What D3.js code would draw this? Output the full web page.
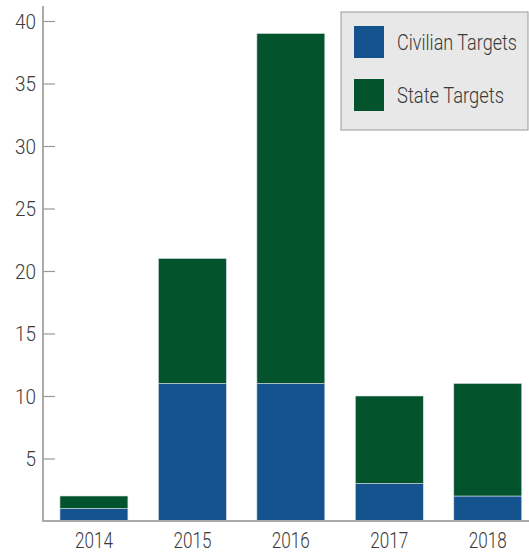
<!DOCTYPE html>
<html>
<head>
<meta charset="utf-8">
<script src="https://cdn.jsdelivr.net/npm/d3@7"></script>
<style>
  body { margin: 0; background: #fff; }
  svg text { font-family: Roboto, 'Noto Sans', sans-serif; font-weight: 300; fill: #3a3a3a; }
</style>
</head>
<body>
<div id="chart"></div>
<script>
// Data
const years = ['2014', '2015', '2016', '2017', '2018']
const civilian = [1, 11, 11, 3, 2]
const state = [1, 10, 28, 7, 9]
const yTicks = [5, 10, 15, 20, 25, 30, 35, 40]
const seriesNames = ['Civilian Targets', 'State Targets']
const seriesColors = ['#14538e', '#03532c']

const width = 529, height = 552
const margin = { top: 21, bottom: 31, left: 43 }

const svg = d3.select('#chart').append('svg')
  .attr('width', width)
  .attr('height', height)

// Scales
const x = d3.scaleBand()
  .domain(years)
  .range([44.7, 537])
  .paddingInner(0.31)
  .paddingOuter(0.155)

const y = d3.scaleLinear()
  .domain([0, 40])
  .range([height - margin.bottom, margin.top])

// Stack
const rows = years.map((yr, i) => ({ year: yr, civ: civilian[i], st: state[i] }))
const stacked = d3.stack().keys(['civ', 'st'])(rows)

svg.append('g')
  .selectAll('g')
  .data(stacked)
  .join('g')
  .attr('fill', (d, i) => seriesColors[i])
  .selectAll('rect')
  .data(d => d)
  .join('rect')
  .attr('x', d => x(d.data.year))
  .attr('y', d => y(d[1]))
  .attr('width', x.bandwidth())
  .attr('height', d => y(d[0]) - y(d[1]))
  .attr('stroke', '#d8dde6')
  .attr('stroke-width', 0.6)

// Y axis
const yAxis = svg.append('g')
  .attr('transform', 'translate(' + margin.left + ',0)')
  .call(d3.axisRight(y).tickValues(yTicks).tickSize(12).tickFormat(d3.format('d')))

yAxis.select('.domain').remove()
yAxis.selectAll('.tick line').attr('stroke', '#999').attr('stroke-width', 1.2)
yAxis.selectAll('.tick text')
  .attr('x', -7)
  .attr('dy', '0.36em')
  .attr('text-anchor', 'end')
  .attr('font-size', 20)
  .attr('font-family', null)
  .attr('textLength', d => d < 10 ? 10.5 : 21)
  .attr('lengthAdjust', 'spacingAndGlyphs')

svg.append('line')
  .attr('x1', margin.left).attr('x2', margin.left)
  .attr('y1', 6).attr('y2', y(0) + 1)
  .attr('stroke', '#aaa').attr('stroke-width', 2)

// X baseline and labels
svg.append('line')
  .attr('x1', margin.left - 1).attr('x2', width)
  .attr('y1', y(0)).attr('y2', y(0))
  .attr('stroke', '#aaa').attr('stroke-width', 2)

svg.append('g')
  .selectAll('text')
  .data(years)
  .join('text')
  .attr('x', d => x(d) + x.bandwidth() / 2 - 19)
  .attr('y', 548)
  .attr('font-size', 22)
  .attr('textLength', 38)
  .attr('lengthAdjust', 'spacingAndGlyphs')
  .text(d => d)

// Legend
const legend = svg.append('g')

legend.append('rect')
  .attr('x', 341).attr('y', 12)
  .attr('width', 187).attr('height', 118)
  .attr('fill', '#e8e8e9')
  .attr('stroke', '#999')
  .attr('stroke-width', 1)

const legendWidths = [120, 107]
seriesNames.forEach((name, i) => {
  legend.append('rect')
    .attr('x', 354).attr('y', 26 + i * 53)
    .attr('width', 30).attr('height', 32)
    .attr('fill', seriesColors[i])
  legend.append('text')
    .attr('x', 397).attr('y', 50 + i * 53)
    .attr('font-size', 22)
    .attr('textLength', legendWidths[i])
    .attr('lengthAdjust', 'spacingAndGlyphs')
    .text(name)
})
</script>
</body>
</html>
